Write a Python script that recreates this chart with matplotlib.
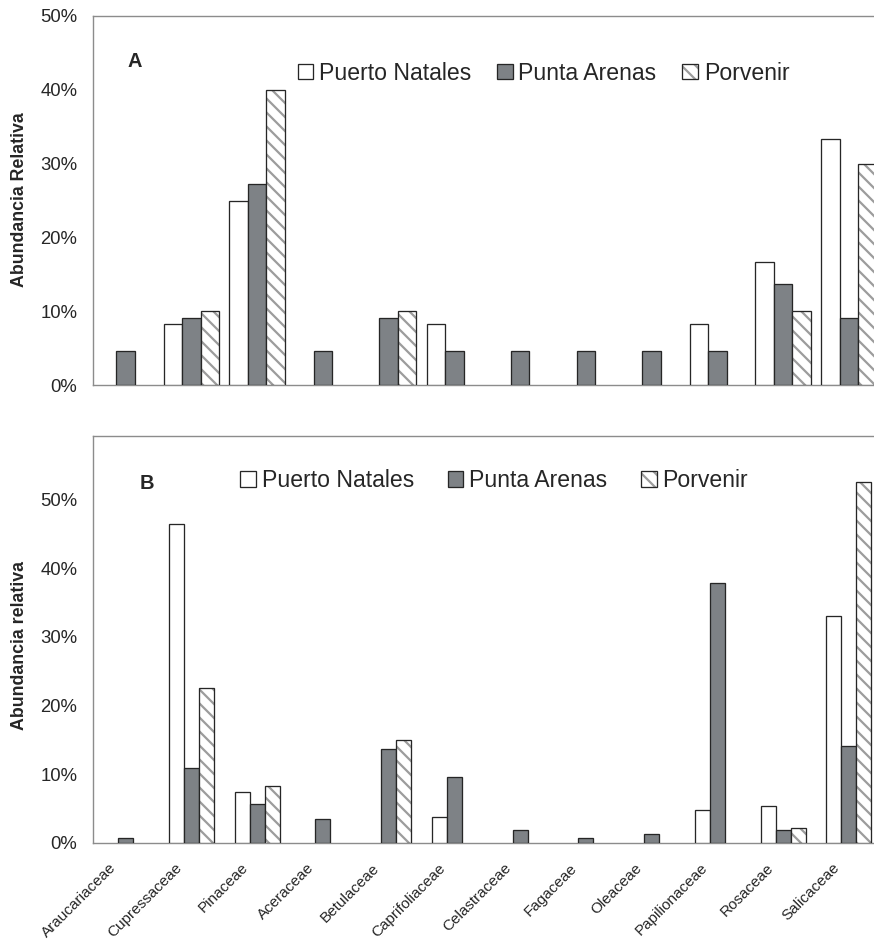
import numpy as np
import matplotlib
matplotlib.use("Agg")
import matplotlib.pyplot as plt
from matplotlib.ticker import FuncFormatter, FixedLocator
from matplotlib.legend_handler import HandlerTuple
import matplotlib.transforms as mtransforms

# ---------------- data ----------------
families = ["Araucariaceae", "Cupressaceae", "Pinaceae", "Aceraceae", "Betulaceae",
            "Caprifoliaceae", "Celastraceae", "Fagaceae", "Oleaceae", "Papilionaceae",
            "Rosaceae", "Salicaceae"]
series_names = ["Puerto Natales", "Punta Arenas", "Porvenir"]

# Panel A (%)
a_puerto_natales = [0, 8.33, 25.0, 0, 0, 8.33, 0, 0, 0, 8.33, 16.67, 33.33]
a_punta_arenas = [4.55, 9.09, 27.27, 4.55, 9.09, 4.55, 4.55, 4.55, 4.55, 4.55, 13.64, 9.09]
a_porvenir = [0, 10.0, 40.0, 0, 10.0, 0, 0, 0, 0, 0, 10.0, 30.0]

# Panel B (%)
b_puerto_natales = [0, 46.4, 7.4, 0, 0, 3.7, 0, 0, 0, 4.8, 5.3, 33.1]
b_punta_arenas = [0.66, 10.9, 5.7, 3.5, 13.6, 9.5, 1.8, 0.66, 1.2, 37.9, 1.8, 14.1]
b_porvenir = [0, 22.6, 8.2, 0, 14.9, 0, 0, 0, 0, 0, 2.2, 52.6]

ytick_values = [0, 10, 20, 30, 40, 50]

# ---------------- styling ----------------
DPI = 84
W, H = 874, 943


def pt(px):
    return px * 72.0 / DPI


plt.rcParams['font.family'] = ['Liberation Sans', 'DejaVu Sans']
plt.rcParams['hatch.linewidth'] = 1.9

EDGE = '#262626'
GRAY_FILL = '#7e8286'
HATCH_COL = '#9c9c9c'
SPINE = '#8c8c8c'
TXT = '#262626'

fig = plt.figure(figsize=(W / DPI, H / DPI), dpi=DPI)
fig.patch.set_facecolor('white')

ax_left = 92.7
ax_width = 789.0


def make_axes(top_px, bottom_px):
    return fig.add_axes([ax_left / W, (H - bottom_px) / H, ax_width / W, (bottom_px - top_px) / H])


axA = make_axes(16.0, 385.0)
axB = make_axes(435.7, 842.7)


def nanzero(v):
    v = np.asarray(v, dtype=float)
    return np.where(v > 0, v, np.nan)


def draw_panel(ax, pn, pa, po, width, ytop):
    x = np.arange(len(families))
    lw = pt(1.3)
    b_pn = ax.bar(x - width, nanzero(pn), width, facecolor='white', edgecolor=EDGE, linewidth=lw, zorder=3)
    b_pa = ax.bar(x, nanzero(pa), width, facecolor=GRAY_FILL, edgecolor=EDGE, linewidth=lw, zorder=3)
    b_po_h = ax.bar(x + width, nanzero(po), width, facecolor='white', edgecolor=HATCH_COL,
                    linewidth=0, hatch='\\\\', zorder=3)
    b_po_e = ax.bar(x + width, nanzero(po), width, facecolor='none', edgecolor=EDGE, linewidth=lw, zorder=4)
    ax.set_xlim(-0.5, len(families) - 0.5)
    ax.set_ylim(0, ytop)
    ax.yaxis.set_major_locator(FixedLocator(ytick_values))
    ax.yaxis.set_major_formatter(FuncFormatter(lambda v, p: f"{v:.0f}%"))
    ax.tick_params(axis='y', length=0, pad=pt(15.5), labelsize=pt(18.5), labelcolor=TXT)
    ax.tick_params(axis='x', length=0)
    for s in ['left', 'top', 'bottom']:
        ax.spines[s].set_color(SPINE)
        ax.spines[s].set_linewidth(pt(1.4))
    ax.spines['right'].set_visible(False)
    ax.set_facecolor('white')
    return b_pn, b_pa, (b_po_h, b_po_e)


hA = draw_panel(axA, a_puerto_natales, a_punta_arenas, a_porvenir, 0.282, 50)
hB = draw_panel(axB, b_puerto_natales, b_punta_arenas, b_porvenir, 0.228, 59.3)

axA.set_xticks(np.arange(len(families)))
axA.set_xticklabels([])

axB.set_xticks(np.arange(len(families)))
axB.set_xticklabels(families, rotation=45, ha='right', va='baseline', rotation_mode='anchor',
                    fontsize=pt(15.3), color=TXT)
axB.tick_params(axis='x', pad=pt(25.8))
offset = mtransforms.ScaledTranslation(-8.7 / DPI, 0, fig.dpi_scale_trans)
for lab in axB.get_xticklabels():
    lab.set_transform(lab.get_transform() + offset)

# y labels
fig.text(19.5 / W, (H - 200.0) / H, "Abundancia Relativa", rotation=90, ha='center', va='center',
         fontsize=pt(17.8), fontweight='bold', color=TXT)
fig.text(19.5 / W, (H - 645.0) / H, "Abundancia relativa", rotation=90, ha='center', va='center',
         fontsize=pt(17.8), fontweight='bold', color=TXT)

# panel letters
fig.text(127.0 / W, (H - 67.0) / H, "A", ha='left', va='baseline', fontsize=pt(20), fontweight='bold', color=TXT)
fig.text(139.3 / W, (H - 489.3) / H, "B", ha='left', va='baseline', fontsize=pt(20), fontweight='bold', color=TXT)


def add_legend(ax, handles, x_px, y_px, colsp):
    leg = ax.legend(list(handles), series_names, ncol=3, loc='center left',
                    bbox_to_anchor=(x_px / W, (H - y_px) / H), bbox_transform=fig.transFigure,
                    frameon=False, borderpad=0, borderaxespad=0, fontsize=pt(23),
                    handlelength=0.68, handleheight=0.65, handletextpad=0.25, columnspacing=colsp,
                    handler_map={tuple: HandlerTuple(ndivide=1)})
    for t in leg.get_texts():
        t.set_color(TXT)
    return leg


add_legend(axA, hA, 297.7, 73.0, 1.12)
add_legend(axB, hB, 240.3, 480.5, 1.47)

fig.savefig("out.png", dpi=DPI, facecolor='white')
